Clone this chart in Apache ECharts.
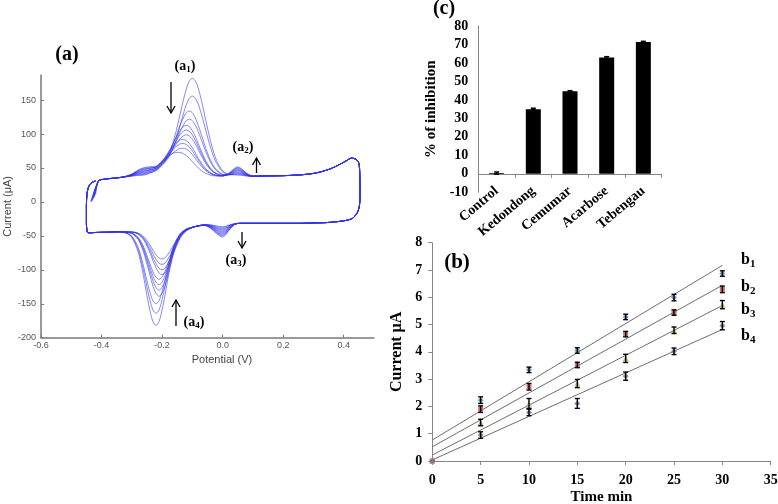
<!DOCTYPE html>
<html><head><meta charset="utf-8">
<script src="https://cdn.jsdelivr.net/npm/echarts/dist/echarts.min.js"></script>
<style>html,body{margin:0;padding:0;background:#fff}#c{width:778px;height:504px}</style>
</head><body><div id="c"></div>
<script>
// ---------------- Panel (a): cyclic voltammograms ----------------
const cvStartE = [-0.43,-0.425,-0.435,-0.42,-0.43,-0.425,-0.435,-0.42,-0.43,-0.425,-0.433];
const cvStartI = [2,6,0,10,4,8,1,12,3,7,0];
const cvLeftE = [-0.41,-0.39,-0.36,-0.33];
const cvLeftI = [31,33.5,35,36.5];
const cvPotentialUp = [-0.30,-0.28,-0.26,-0.24,-0.22,-0.20,-0.19,-0.18,-0.17,-0.16,-0.15,-0.14,-0.13,-0.12,-0.11,-0.10,-0.09,-0.08,-0.07,-0.06,-0.05,-0.04,-0.03,-0.02,0.00,0.02,0.04,0.05,0.06,0.08,0.10];
const cvScansUp = [
 [38,39,39.5,42.5,46.5,55,61,69,79.5,93.5,110.6,130.3,149.5,166.5,178,182,178,166.5,149.5,129.3,108.6,89.5,73.5,61.1,46.1,40.6,39.8,39.5,39.3,38.2,37.6],
 [38.4,39.8,40.6,43.2,46.4,53.7,58.5,64.8,73,84.2,97.8,113.7,129.3,143.3,152.7,156,152.7,143.3,129.3,112.7,95.8,80.2,67,56.8,44.6,40.5,40.8,40.7,40.3,38.5,37.6],
 [38.7,40.6,41.7,44.4,47.8,56.4,62.2,69.5,78.2,89,100.8,113.3,123.7,131.3,134,131.3,123.7,112.3,98.8,85,72.2,61.5,53.2,47.2,40.8,39.7,41.4,41.9,41.4,38.9,37.7],
 [39,41.4,42.8,45.1,47.7,55.3,60.3,66.5,73.9,83.1,93.2,104,113,119.6,122,119.6,113,103,91.2,79.1,67.9,58.5,51.3,46,40.5,40,42.4,43.1,42.4,39.3,37.8],
 [39.3,42.2,43.9,46.5,49.8,59.2,65.3,72.7,80.6,89.4,98,105.9,110.9,113,110.9,104.9,96,85.4,74.6,64.7,56.3,49.8,45.1,42,39.1,40,43.5,44.3,43.5,39.7,37.8],
 [39.6,43,45,47.2,49.6,58.1,63.6,70.2,77.2,85,92.6,99.7,104.1,106,104.1,98.7,90.6,81,71.2,62.2,54.6,48.7,44.4,41.5,39,40.4,44.6,45.5,44.6,40.1,37.9],
 [39.9,43.7,46.1,47.7,49.5,57,61.8,67.6,73.8,80.6,87.2,93.4,97.3,99,97.3,92.4,85.2,76.6,67.8,59.6,52.8,47.5,43.7,41.1,38.9,40.7,45.6,46.7,45.6,40.5,37.9],
 [40.2,44.5,47.2,49.2,51.7,60.6,66.1,72.3,78.1,83.7,88.2,91.5,92,90.5,86.2,79.7,72.1,64.3,57.1,51.1,46.4,43,40.7,39.2,38.4,40.9,46.7,47.9,46.7,40.9,38],
 [40.5,45.3,48.3,49.9,51.4,59.2,64,69.4,74.3,79.1,82.8,85.6,86,84.6,80.8,75.1,68.3,61.4,55,49.6,45.4,42.4,40.4,39.1,38.4,41.3,47.7,49.1,47.7,41.3,38],
 [40.8,46.1,49.4,50.4,51,57.5,61.4,65.9,69.9,73.7,76.6,78.8,79,77.8,74.6,69.7,63.9,57.9,52.4,47.8,44.3,41.7,39.9,38.8,38.4,41.7,48.8,50.3,48.8,41.7,38.1],
 [41.1,46.9,50.5,51.9,52.7,59.6,63.5,67.4,70.2,72.3,73,73,71,68.3,64.2,59.4,54.5,49.9,46.1,43.1,41,39.5,38.6,38.1,38.2,42.1,49.8,51.5,49.8,42.1,38.1]
];
const cvTurnE = [0.14,0.18,0.22,0.26,0.30,0.33,0.36,0.39,0.41,0.425,0.44,0.45,0.453,0.454,0.452,0.447,0.44,0.43,0.41,0.38,0.34,0.30,0.25,0.20,0.15];
const cvTurnI = [38.3,38.5,39,40,42,45,49.5,56,61,64.5,63,57,40,10,-5,-14,-19,-24,-27,-29,-30.5,-31,-31.5,-31.5,-31.5];
const cvPotentialDown = [0.10,0.06,0.04,0.02,0.01,0.00,-0.01,-0.02,-0.04,-0.06,-0.08,-0.10,-0.12,-0.14,-0.16,-0.17,-0.18,-0.19,-0.20,-0.21,-0.22,-0.23,-0.24,-0.25,-0.26,-0.27,-0.28,-0.30,-0.32,-0.34];
const cvScansDown = [
 [-31.5,-31.5,-31.9,-34.2,-35.8,-36.5,-36.2,-35.3,-33.7,-33.4,-35.1,-37.3,-40.3,-48.4,-69.6,-88.1,-110.8,-136.3,-159.2,-176.1,-182,-176.6,-160.2,-137.8,-112.8,-90.6,-72.6,-52.4,-45.8,-44.3],
 [-31.5,-31.5,-32.1,-35,-37.1,-38,-37.6,-36.4,-34.2,-33.6,-35.1,-37.3,-40.1,-47.2,-65.8,-82,-101.8,-124.1,-144,-158.9,-164,-159.4,-145,-125.6,-103.8,-84.5,-68.8,-51.2,-45.6,-44.2],
 [-31.5,-31.5,-32.2,-35.8,-38.4,-39.5,-39,-37.6,-34.7,-33.7,-35.1,-37.2,-39.9,-46.3,-62.9,-77.3,-94.8,-114.6,-132.2,-145.4,-150,-145.9,-133.2,-116.1,-96.8,-79.8,-65.9,-50.3,-45.4,-44.2],
 [-31.5,-31.5,-32.3,-36.6,-39.6,-41,-40.4,-38.7,-35.2,-33.8,-35.1,-37.5,-41.4,-51.2,-73.1,-89.3,-106.6,-123,-134.4,-139,-134.9,-124,-108.1,-91.3,-75.6,-63.6,-54.7,-46.4,-44.5,-44],
 [-31.5,-31.5,-32.4,-37.4,-40.9,-42.5,-41.8,-39.9,-35.7,-33.9,-35.1,-37.4,-41.2,-50.1,-70,-84.8,-100.5,-115.4,-125.8,-130,-126.3,-116.4,-102,-86.8,-72.5,-61.7,-53.6,-46.2,-44.4,-44],
 [-31.5,-31.5,-32.6,-38.3,-42.2,-44,-43.2,-41,-36.2,-34.1,-35.2,-37.4,-40.9,-49.2,-67.3,-80.8,-95.1,-108.7,-118.1,-122,-118.6,-109.7,-96.6,-82.8,-69.8,-60,-52.7,-45.9,-44.4,-44],
 [-31.5,-31.5,-32.7,-39.1,-43.5,-45.5,-44.6,-42.1,-36.7,-34.2,-35.2,-37.4,-40.7,-48.2,-64.6,-76.8,-89.7,-102,-110.5,-114,-111,-103,-91.2,-78.8,-67.1,-58.3,-51.7,-45.7,-44.4,-44],
 [-31.5,-31.5,-32.8,-39.9,-44.8,-47,-46,-43.3,-37.2,-34.3,-35.3,-37.9,-42.7,-53.4,-73,-85.2,-96,-104.2,-107,-104.7,-97,-86.7,-75,-64.9,-56.4,-50.9,-47.2,-44.4,-44.1,-44],
 [-31.5,-31.5,-33,-40.7,-46.1,-48.5,-47.4,-44.4,-37.7,-34.5,-35.3,-37.8,-42.2,-51.9,-69.5,-80.5,-90.1,-97.5,-100,-98,-91.1,-82,-71.5,-62.5,-54.9,-50.1,-46.7,-44.3,-44.1,-44],
 [-31.5,-31.5,-33.1,-41.5,-47.4,-50,-48.8,-45.6,-38.2,-34.6,-35.3,-37.7,-41.7,-50.3,-65.5,-75.1,-83.4,-89.9,-92,-90.4,-84.4,-76.6,-67.5,-59.8,-53.3,-49.1,-46.2,-44.2,-44.1,-44],
 [-31.5,-31.5,-33.2,-42.3,-48.6,-51.5,-50.2,-46.7,-38.7,-34.7,-35.3,-37.6,-41.2,-48.6,-61.5,-69.7,-76.7,-82.2,-84,-82.7,-77.7,-71.2,-63.5,-57.1,-51.6,-48.2,-45.7,-44.1,-44.1,-44]
];
const cvEndE = [-0.38,-0.42,-0.44,-0.447,-0.45,-0.45,-0.448,-0.443,-0.435,-0.42];
const cvEndI = [-44.5,-45,-45.5,-44,-30,-5,12,22,27.5,31];

// ---------------- Panel (c): % inhibition ----------------
const samples = ['Control','Kedondong','Cemumar','Acarbose','Tebengau'];
const inhibition = [0.4,35,44.7,62.9,71.4];
const inhibitionErr = [0.6,0.5,0.3,0.5,0.3];

// ---------------- Panel (b): current vs time ----------------
const timeMin = [0,5,10,15,20,25,30];
const b1 = [0,2.23,3.34,4.05,5.28,5.99,6.87];
const b2 = [0,1.90,2.72,3.52,4.65,5.44,6.29];
const b3 = [0,1.41,2.11,2.84,3.76,4.79,5.73];
const b4 = [0,0.95,1.78,2.11,3.11,4.02,4.96];
const b1Err = [0,0.12,0.10,0.10,0.10,0.12,0.10];
const b2Err = [0,0.12,0.12,0.10,0.10,0.10,0.12];
const b3Err = [0,0.12,0.18,0.15,0.15,0.12,0.15];
const b4Err = [0,0.12,0.12,0.18,0.15,0.12,0.15];
const fitTime = [0,30];
const fitB1 = [0.77,7.17];
const fitB2 = [0.52,6.44];
const fitB3 = [0.22,5.70];
const fitB4 = [0.04,4.82];

// ---------------- build ----------------
const SERIF = '"Liberation Serif","Times New Roman",serif';
const SANS = '"Liberation Sans",Arial,sans-serif';
const zip = (a, b) => a.map((v, i) => [v, b[i]]);

const cvSeries = cvScansUp.map((up, k) => ({
  type: 'line', xAxisIndex: 0, yAxisIndex: 0, symbol: 'none', showSymbol: false,
  smooth: 0.3, silent: true, animation: false,
  lineStyle: {color: 'rgba(50,50,232,0.58)', width: 1},
  data: [[cvStartE[k], cvStartI[k]], ...zip(cvLeftE, cvLeftI), ...zip(cvPotentialUp, up),
         ...zip(cvTurnE, cvTurnI), ...zip(cvPotentialDown, cvScansDown[k]), ...zip(cvEndE, cvEndI)]
}));

function errRender(capW, lw) {
  return function (params, api) {
    const x = api.value(0), v = api.value(1), e = api.value(2);
    const hi = api.coord([x, v + e]), lo = api.coord([x, v - e]);
    const st = {stroke: '#000', lineWidth: lw};
    return {type: 'group', children: [
      {type: 'line', shape: {x1: hi[0], y1: hi[1], x2: lo[0], y2: lo[1]}, style: st},
      {type: 'line', shape: {x1: hi[0] - capW, y1: hi[1], x2: hi[0] + capW, y2: hi[1]}, style: st},
      {type: 'line', shape: {x1: lo[0] - capW, y1: lo[1], x2: lo[0] + capW, y2: lo[1]}, style: st}
    ]};
  };
}

const bSets = [
  {name: 'b1', y: b1, err: b1Err, fit: fitB1, color: '#4f81bd', symbol: 'diamond', size: 6},
  {name: 'b2', y: b2, err: b2Err, fit: fitB2, color: '#c0504d', symbol: 'rect', size: 5},
  {name: 'b3', y: b3, err: b3Err, fit: fitB3, color: '#9bbb59', symbol: 'triangle', size: 6},
  {name: 'b4', y: b4, err: b4Err, fit: fitB4, color: '#8064a2', symbol: 'diamond', size: 6}
];
const bSeries = [];
bSets.forEach(s => bSeries.push({
  type: 'line', xAxisIndex: 2, yAxisIndex: 2, symbol: 'none', silent: true, animation: false,
  lineStyle: {color: '#6e6e6e', width: 1}, data: zip(fitTime, s.fit), z: 2
}));
bSets.forEach(s => bSeries.push({
  type: 'scatter', name: s.name, xAxisIndex: 2, yAxisIndex: 2, symbol: s.symbol, symbolSize: s.size,
  itemStyle: {color: s.color}, animation: false, z: 3, data: zip(timeMin, s.y)
}));
bSets.forEach(s => bSeries.push({
  type: 'custom', xAxisIndex: 2, yAxisIndex: 2, renderItem: errRender(2.5, 1.4), animation: false, z: 4,
  encode: {x: 0, y: 1},
  data: timeMin.map((t, i) => [t, s.y[i], s.err[i]]).filter(d => d[0] > 0)
}));

const mctx = document.createElement('canvas').getContext('2d');
function tw(t, f) { mctx.font = f; return mctx.measureText(t).width; }
function txt(x, y, t, f, align) {
  return {type: 'text', x: x, y: y, silent: true,
    style: {text: t, font: f, fill: '#000', textAlign: align || 'left', textVerticalAlign: 'middle', align: align || 'left', verticalAlign: 'middle'}};
}
function subLabel(cx, cy, pre, sub, post, size, subSize, anchorLeft) {
  const f = 'bold ' + size + 'px ' + SERIF, fs = 'bold ' + subSize + 'px ' + SERIF;
  const w1 = tw(pre, f), w2 = tw(sub, fs), w3 = post ? tw(post, f) : 0;
  const x0 = anchorLeft ? cx : cx - (w1 + w2 + w3) / 2;
  const out = [txt(x0, cy, pre, f), txt(x0 + w1, cy + size * 0.28, sub, fs)];
  if (post) out.push(txt(x0 + w1 + w2, cy, post, f));
  return out;
}
function arrow(x, yFrom, yTo) {
  const d = yTo > yFrom ? 1 : -1;
  return [
    {type: 'line', silent: true, shape: {x1: x, y1: yFrom, x2: x, y2: yTo}, style: {stroke: '#000', lineWidth: 1.3}},
    {type: 'polyline', silent: true, shape: {points: [[x - 4, yTo - d * 7], [x, yTo], [x + 4, yTo - d * 7]]}, style: {stroke: '#000', lineWidth: 1.3, fill: null}}
  ];
}

const graphics = [
  txt(67, 55, '(a)', 'bold 20px ' + SERIF, 'center'),
  txt(444, 9, '(c)', 'bold 20px ' + SERIF, 'center'),
  txt(457, 263, '(b)', 'bold 21px ' + SERIF, 'center'),
  ...subLabel(185, 66, '(a', '1', ')', 14, 9),
  ...subLabel(243, 147, '(a', '2', ')', 14, 9),
  ...subLabel(236, 260, '(a', '3', ')', 14, 9),
  ...subLabel(194, 322, '(a', '4', ')', 14, 9),
  ...arrow(171, 82, 113),
  ...arrow(256.5, 173, 158),
  ...arrow(242, 232, 248),
  ...arrow(176, 326, 300),
  ...subLabel(741, 260, 'b', '1', '', 16, 11, true),
  ...subLabel(741, 287, 'b', '2', '', 16, 11, true),
  ...subLabel(741, 310, 'b', '3', '', 16, 11, true),
  ...subLabel(741, 336, 'b', '4', '', 16, 11, true)
];

const axisGray = '#868686';
const boldSerif = {fontFamily: SERIF, fontWeight: 'bold', fontSize: 14, color: '#000'};

const option = {
  animation: false,
  backgroundColor: '#fff',
  grid: [
    {left: 41, top: 75, width: 333, height: 262.7, outerBoundsMode: 'none'},
    {left: 478.3, top: 26, width: 183.4, height: 166.3, outerBoundsMode: 'none'},
    {left: 432.3, top: 242.7, width: 338.4, height: 218.3, outerBoundsMode: 'none'}
  ],
  xAxis: [
    {type: 'value', gridIndex: 0, min: -0.6, max: 0.5, interval: 0.2,
     name: 'Potential (V)', nameLocation: 'middle', nameGap: 9,
     nameTextStyle: {fontFamily: SANS, fontSize: 11, color: '#444', padding: [0, 0, 0, 29]},
     axisLine: {onZero: false, lineStyle: {color: '#7a7a7a', width: 1.5}},
     axisTick: {show: true, inside: true, length: 3, lineStyle: {color: '#7a7a7a'}},
     axisLabel: {fontFamily: SANS, fontSize: 9, color: '#555', margin: 3, showMaxLabel: false, formatter: v => v.toFixed(1)},
     splitLine: {show: false}},
    {type: 'category', gridIndex: 1, data: samples,
     axisLine: {onZero: true, lineStyle: {color: axisGray, width: 1}},
     axisTick: {show: true, length: 4, lineStyle: {color: axisGray}},
     axisLabel: Object.assign({rotate: 40, margin: -3, interval: 0}, boldSerif),
     splitLine: {show: false}},
    {type: 'value', gridIndex: 2, min: 0, max: 35, interval: 5,
     name: 'Time min', nameLocation: 'middle', nameGap: 29,
     nameTextStyle: {fontFamily: SERIF, fontWeight: 'bold', fontSize: 15, color: '#000'},
     axisLine: {onZero: false, lineStyle: {color: axisGray, width: 1}},
     axisTick: {show: true, length: 4, lineStyle: {color: axisGray}},
     axisLabel: Object.assign({margin: 12}, boldSerif),
     splitLine: {show: false}}
  ],
  yAxis: [
    {type: 'value', gridIndex: 0, min: -200, max: 187, interval: 50,
     name: 'Current (μA)', nameLocation: 'middle', nameGap: 28,
     nameTextStyle: {fontFamily: SANS, fontSize: 11, color: '#444'},
     axisLine: {show: true, onZero: false, lineStyle: {color: '#7a7a7a', width: 1.5}},
     axisTick: {show: true, inside: true, length: 3, lineStyle: {color: '#7a7a7a'}},
     axisLabel: {fontFamily: SANS, fontSize: 9, color: '#555', margin: 5, showMaxLabel: false},
     splitLine: {show: false}},
    {type: 'value', gridIndex: 1, min: -10, max: 80, interval: 10,
     name: '% of inhibition', nameLocation: 'middle', nameGap: 40,
     nameTextStyle: {fontFamily: SERIF, fontWeight: 'bold', fontSize: 15, color: '#000'},
     axisLine: {show: true, lineStyle: {color: axisGray, width: 1}},
     axisTick: {show: false},
     axisLabel: Object.assign({margin: 10}, boldSerif),
     splitLine: {show: false}},
    {type: 'value', gridIndex: 2, min: 0, max: 8, interval: 1,
     name: 'Current µA', nameLocation: 'middle', nameGap: 27,
     nameTextStyle: {fontFamily: SERIF, fontWeight: 'bold', fontSize: 16, color: '#000'},
     axisLine: {show: true, onZero: false, lineStyle: {color: axisGray, width: 1}},
     axisTick: {show: true, length: 4, lineStyle: {color: axisGray}},
     axisLabel: Object.assign({margin: 10}, boldSerif),
     splitLine: {show: false}}
  ],
  series: [
    ...cvSeries,
    {type: 'bar', xAxisIndex: 1, yAxisIndex: 1, barWidth: 15, itemStyle: {color: '#000'}, data: inhibition, animation: false},
    {type: 'custom', xAxisIndex: 1, yAxisIndex: 1, renderItem: errRender(2.5, 1.5), encode: {x: 0, y: 1},
     data: samples.map((s, i) => [i, inhibition[i], inhibitionErr[i]]), z: 5, animation: false},
    ...bSeries
  ],
  graphic: {elements: graphics}
};

const chart = echarts.init(document.getElementById('c'), null, {renderer: 'canvas'});
chart.setOption(option);
</script></body></html>
